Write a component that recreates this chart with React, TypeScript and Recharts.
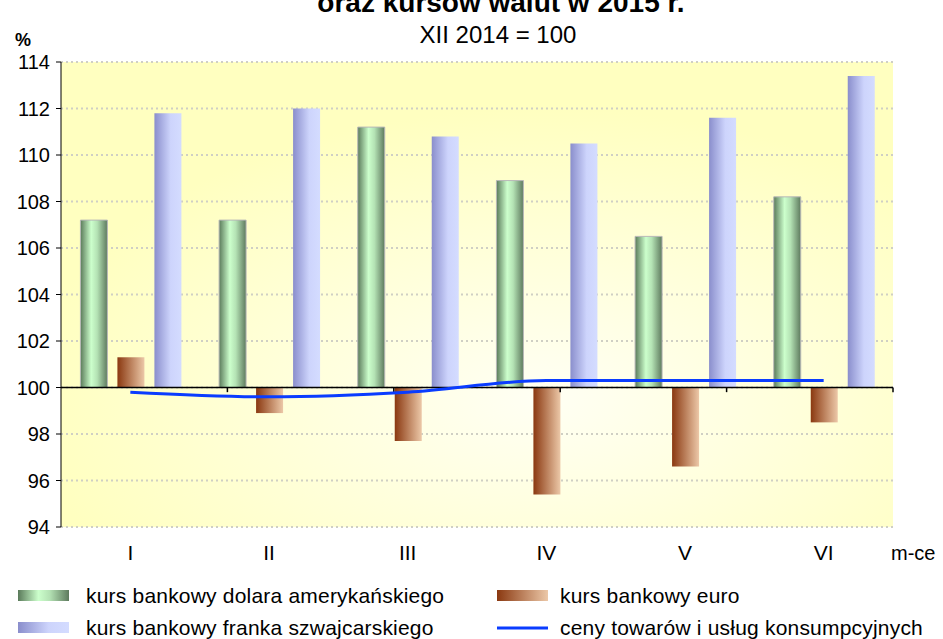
import { Bar, CartesianGrid, ComposedChart, Line, ReferenceLine, XAxis, YAxis } from "recharts"

const months = ["I", "II", "III", "IV", "V", "VI"]
const usd = [107.2, 107.2, 111.2, 108.9, 106.5, 108.2]
const eur = [101.3, 98.9, 97.7, 95.4, 96.6, 98.5]
const chf = [111.8, 112.0, 110.8, 110.5, 111.6, 113.4]
const cpi = [99.8, 99.6, 99.8, 100.3, 100.3, 100.3]
const yTicks = [94, 96, 98, 100, 102, 104, 106, 108, 110, 112, 114]
const boundaries = [1, 2, 3, 4, 5, 6]

const data = months.map((m, i) => ({ month: m, usd: usd[i], eur: eur[i], chf: chf[i], cpi: cpi[i] }))

const font = "'Liberation Sans', Arial, sans-serif"
const BASE = 100

function Gradients() {
  return (
    <defs>
      <radialGradient id="plotBg" cx="0.58" cy="0.72" r="0.62">
        <stop offset="0%" stopColor="#fffff4" />
        <stop offset="100%" stopColor="#ffffc0" />
      </radialGradient>
      <linearGradient id="gUsd" x1="0" y1="0" x2="1" y2="0">
        <stop offset="0%" stopColor="#5a7a5a" />
        <stop offset="40%" stopColor="#ccffcc" />
        <stop offset="62%" stopColor="#b4e2b4" />
        <stop offset="100%" stopColor="#5e7a5e" />
      </linearGradient>
      <linearGradient id="gEur" x1="0" y1="0" x2="1" y2="0">
        <stop offset="0%" stopColor="#8a3810" />
        <stop offset="100%" stopColor="#ecc8a8" />
      </linearGradient>
      <linearGradient id="gChf" x1="0" y1="0" x2="1" y2="0">
        <stop offset="0%" stopColor="#8a8ecc" />
        <stop offset="60%" stopColor="#cdd4fc" />
        <stop offset="100%" stopColor="#d4dcff" />
      </linearGradient>
    </defs>
  )
}

function Legend() {
  const items = [
    { x: 18, y: 590, label: "kurs bankowy dolara amerykańskiego", fill: "url(#gUsd)" },
    { x: 497, y: 590, label: "kurs bankowy euro", fill: "url(#gEur)" },
    { x: 18, y: 622, label: "kurs bankowy franka szwajcarskiego", fill: "url(#gChf)" },
    { x: 497, y: 622, label: "ceny towarów i usług konsumpcyjnych", line: true },
  ]
  return (
    <g fontFamily={font} fontSize={21} fill="#000" letterSpacing={0.2}>
      {items.map((it) => (
        <g key={it.label}>
          {it.line ? (
            <line x1={it.x} x2={it.x + 51} y1={it.y + 6} y2={it.y + 6} stroke="#0a3cff" strokeWidth={3} />
          ) : (
            <rect x={it.x} y={it.y} width={51} height={11} fill={it.fill} />
          )}
          <text x={it.x < 100 ? 86 : 560} y={it.y + 13}>
            {it.label}
          </text>
        </g>
      ))}
    </g>
  )
}

export default function App() {
  return (
    <div style={{ position: "absolute", left: 0, top: 0, width: 943, height: 639, background: "#fff" }}>
      <ComposedChart
        width={943}
        height={639}
        data={data}
        margin={{ top: 62, right: 50, bottom: 72, left: 0 }}
        barCategoryGap="14%"
        barGap={10}
      >
        <Gradients />
        <CartesianGrid
          vertical={false}
          stroke="#cfcfc4"
          strokeWidth={2}
          strokeDasharray="2 3"
          fill="url(#plotBg)"
          fillOpacity={1}
        />
        <XAxis
          dataKey="month"
          axisLine={false}
          tickLine={false}
          height={40}
          tickMargin={12}
          tick={{ fill: "#000", fontSize: 21, fontFamily: font }}
        />
        <XAxis xAxisId="n" type="number" domain={[0, 6]} hide />
        <YAxis
          domain={[94, 114]}
          ticks={yTicks}
          width={61}
          axisLine={{ stroke: "#000", strokeWidth: 1 }}
          tickLine={{ stroke: "#000" }}
          tickSize={5}
          tickMargin={6}
          interval={0}
          tick={{ fill: "#000", fontSize: 20, fontFamily: font }}
        />
        <ReferenceLine xAxisId="n" x={6} stroke="#c8c8c8" strokeWidth={1} />
        <Bar
          dataKey={(d) => [BASE, d.usd]}
          fill="url(#gUsd)"
          stroke="#b8b8b8"
          strokeWidth={1}
          isAnimationActive={false}
        />
        <Bar dataKey={(d) => [BASE, d.eur]} fill="url(#gEur)" isAnimationActive={false} />
        <Bar dataKey={(d) => [BASE, d.chf]} fill="url(#gChf)" isAnimationActive={false} />
        <ReferenceLine y={BASE} stroke="#000" strokeWidth={1.5} />
        {boundaries.map((b) => (
          <ReferenceLine
            key={b}
            xAxisId="n"
            segment={[
              { x: b, y: BASE },
              { x: b, y: BASE - 0.2 },
            ]}
            stroke="#000"
            strokeWidth={1.5}
          />
        ))}
        <Line
          dataKey="cpi"
          type="monotone"
          stroke="#0a3cff"
          strokeWidth={3}
          dot={false}
          isAnimationActive={false}
        />
      </ComposedChart>
      <svg width={943} height={639} style={{ position: "absolute", left: 0, top: 0, pointerEvents: "none" }}>
        <Gradients />
        <g fontFamily={font} fill="#000" textAnchor="middle">
          <text x={501} y={12} fontSize={28} fontWeight="bold">
            oraz kursów walut w 2015 r.
          </text>
          <text x={498} y={43} fontSize={24}>
            XII 2014 = 100
          </text>
        </g>
        <text x={15} y={46} fontFamily={font} fontSize={18} fontWeight="bold">
          %
        </text>
        <text x={891} y={560} fontFamily={font} fontSize={20}>
          m-ce
        </text>
        <Legend />
      </svg>
    </div>
  )
}
